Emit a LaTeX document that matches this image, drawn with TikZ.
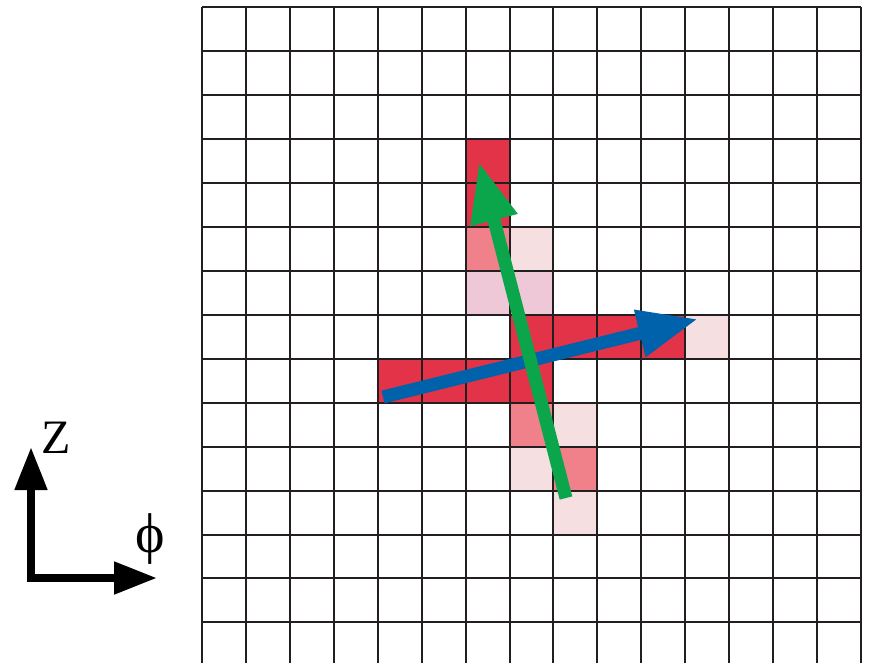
\documentclass[tikz,border=0pt]{standalone}
\usepackage{fontspec}
\setmainfont{Liberation Serif}
\usetikzlibrary{arrows.meta}
\definecolor{cellred}{HTML}{E23348}
\definecolor{cellmid}{HTML}{F0818A}
\definecolor{celllight}{HTML}{F5DFE0}
\definecolor{celllav}{HTML}{EEC8D6}
\definecolor{gridline}{HTML}{231F20}
\definecolor{arrowgreen}{HTML}{0BA64B}
\definecolor{arrowblue}{HTML}{0062AB}
\tikzset{
  gridstyle/.style={draw=gridline, line width=2pt},
  bigarrow/.style={line width=13pt, -{Triangle[length=60pt,width=45pt]}},
  axisarrow/.style={line width=8pt, line join=miter, {Triangle[length=43pt,width=31pt]}-{Triangle[length=43pt,width=31pt]}},
  axislabel/.style={inner sep=0pt, font=\fontsize{48}{48}\selectfont},
  philabel/.style={inner sep=0pt, font=\fontsize{56}{56}\selectfont}
}
\newcommand{\cellfill}[3]{\fill[#3] ({202+43.93*#1},{7.4+43.93*#2}) rectangle ++(43.93,43.93);}
\begin{document}
\begin{tikzpicture}[x=1pt,y=-1pt]
\useasboundingbox (0,0) rectangle (871,662);
% coloured cells (column, row)
\cellfill{6}{3}{cellred}
\cellfill{6}{4}{cellred}
\cellfill{6}{5}{cellmid}
\cellfill{7}{5}{celllight}
\cellfill{6}{6}{celllav}
\cellfill{7}{6}{celllav}
\cellfill{7}{7}{cellred}
\cellfill{8}{7}{cellred}
\cellfill{9}{7}{cellred}
\cellfill{10}{7}{cellred}
\cellfill{11}{7}{celllight}
\cellfill{4}{8}{cellred}
\cellfill{5}{8}{cellred}
\cellfill{6}{8}{cellred}
\cellfill{7}{8}{cellred}
\cellfill{7}{9}{cellmid}
\cellfill{8}{9}{celllight}
\cellfill{7}{10}{celllight}
\cellfill{8}{10}{cellmid}
\cellfill{8}{11}{celllight}
% grid
\begin{scope}
\clip (190,0) rectangle (871,662);
\foreach \k in {0,...,15} {
  \draw[gridstyle] ({202+43.93*\k},7.4) -- ({202+43.93*\k},670);
}
\foreach \k in {0,...,14} {
  \draw[gridstyle] (202,{7.4+43.93*\k}) -- (861,{7.4+43.93*\k});
}
\end{scope}
% arrows
\coordinate (btail) at (383,397);
\coordinate (btip) at (698,319);
\coordinate (gtail) at (566,498);
\coordinate (gtip) at (479,162);
\draw[bigarrow, draw=arrowblue] (btail) -- (btip);
\draw[bigarrow, draw=arrowgreen] (gtail) -- (gtip);
% axes
\coordinate (ztip) at (31,447);
\coordinate (corner) at (31,578);
\coordinate (ptip) at (157,578);
\draw[axisarrow, draw=black] (ztip) -- (corner) -- (ptip);
\node[axislabel] (zlab) at (56,438) {Z};
\node[philabel] (plab) at (150,539) {ϕ};
\end{tikzpicture}
\end{document}
